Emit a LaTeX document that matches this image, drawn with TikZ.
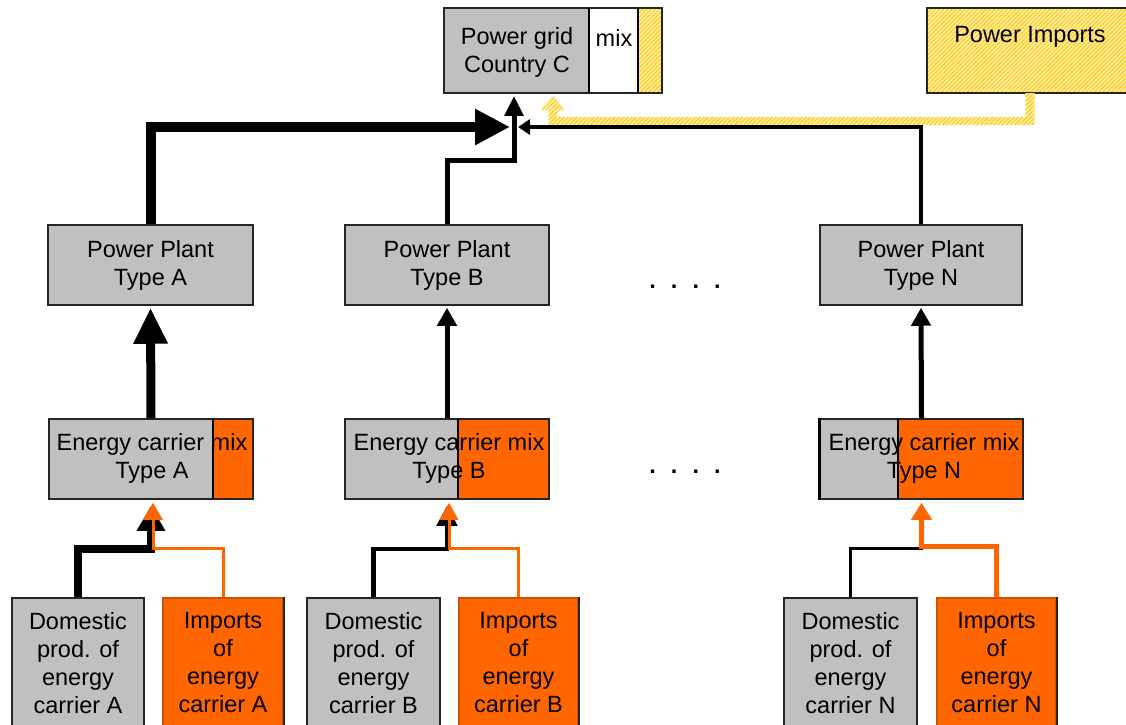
\documentclass[tikz,border=0pt]{standalone}
\usepackage{fontspec}
\setmainfont{Liberation Sans}
\usetikzlibrary{arrows.meta,calc,patterns.meta}
\definecolor{boxgrey}{HTML}{C0C0C0}
\definecolor{carrorange}{HTML}{FF6600}
\definecolor{hatchbg}{HTML}{FFF0A8}
\definecolor{hatchfg}{HTML}{FFCC22}
\begin{document}
\begin{tikzpicture}[x=1pt,y=-1pt,
  txt/.style={font=\fontsize{23.5}{28}\selectfont, align=center, inner sep=0pt},
  box/.style={draw=black!85, line width=1.5pt, inner sep=0pt, font=\fontsize{23.5}{28}\selectfont, align=center},
  greybox/.style={box, fill=boxgrey},
  orangebox/.style={box, draw=carrorange!80!black, fill=carrorange},
  hatch/.style={fill=hatchbg, postaction={pattern={Lines[angle=45,distance=3pt,line width=1.2pt]}, pattern color=hatchfg}},
  divider/.style={line width=2pt, black},
  flowA/.style={line width=10pt, -{Triangle[length=35pt,width=34pt]}},
  flowB/.style={line width=5pt, -{Triangle[length=20pt,width=18pt]}},
  flowN/.style={line width=4pt, -{Triangle[length=12pt,width=15pt]}},
  orflow/.style={carrorange, -{Triangle[length=17pt,width=19pt]}},
  dotrow/.style={font=\fontsize{23.5}{28}\selectfont\bfseries, inner sep=0pt, anchor=base},
]
\useasboundingbox (0,0) rectangle (1126,724);
\fill[white] (0,0) rectangle (1126,724);

% ---------- Power grid Country C ----------
\fill[boxgrey] (444,8) rectangle (589,93);
\fill[white] (589,8) rectangle (638,93);
\fill[hatch] (638,8) rectangle (662,93);
\node[box, minimum width=218pt, minimum height=85pt] (grid) at (553,50.5) {};
\draw[divider] (589,8) -- (589,93);
\draw[divider] (638,8) -- (638,93);
\node[txt] (gridlbl) at (517,52) {Power grid\\Country C};
\node[txt] (gridmix) at (614,38) {mix};

% ---------- Power Imports ----------
\node[inner sep=0pt, hatch, minimum width=206pt, minimum height=85pt] (imp) at (1030,50.5) {};
\draw[black!85, line width=1.5pt] (imp.north west) rectangle (imp.south east);
\node[txt] (implbl) at (1030,37) {Power Imports};

% ---------- Power plants ----------
\node[greybox, minimum width=205pt, minimum height=80pt] (ppA) at (150.5,265) {Power Plant\\Type A};
\node[greybox, minimum width=204pt, minimum height=80pt] (ppB) at (447,265) {Power Plant\\Type B};
\node[greybox, minimum width=202pt, minimum height=80pt] (ppN) at (921,265) {Power Plant\\Type N};

% ---------- Energy carrier mix boxes ----------
\fill[boxgrey] (49,419) rectangle (213,499);
\fill[carrorange] (213,419) rectangle (253,499);
\node[box, minimum width=204pt, minimum height=80pt] (ecA) at (151,459) {};
\node[txt] (ecAlbl) at (152,458) {Energy carrier mix\\Type A};
\draw[divider] (213,419) -- (213,499);

\fill[boxgrey] (345,419) rectangle (458,499);
\fill[carrorange] (458,419) rectangle (549,499);
\node[box, minimum width=204pt, minimum height=80pt] (ecB) at (447,459) {};
\node[txt] (ecBlbl) at (449,458) {Energy carrier mix\\Type B};
\draw[divider] (458,419) -- (458,499);

\fill[boxgrey] (820,419) rectangle (898,499);
\fill[carrorange] (898,419) rectangle (1023,499);
\node[box, minimum width=203pt, minimum height=80pt] (ecN) at (921.5,459) {};
\node[txt] (ecNlbl) at (924,458) {Energy carrier mix\\Type N};
\draw[divider] (898,419) -- (898,499);
\draw[line width=3pt] (ecN.north west) -- (ecN.south west);

% ---------- Bottom sources ----------
\node[greybox, minimum width=132pt, minimum height=130pt] (domA) at (78,663) {Domestic\\prod. of\\energy\\carrier A};
\node[orangebox, minimum width=120pt, minimum height=130pt] (impA) at (223,663) {Imports\\of\\energy\\carrier A};
\node[greybox, minimum width=133pt, minimum height=130pt] (domB) at (373.5,663) {Domestic\\prod. of\\energy\\carrier B};
\node[orangebox, minimum width=119pt, minimum height=130pt] (impB) at (518.5,663) {Imports\\of\\energy\\carrier B};
\node[greybox, minimum width=133pt, minimum height=130pt] (domN) at (850.5,663) {Domestic\\prod. of\\energy\\carrier N};
\node[orangebox, minimum width=119pt, minimum height=130pt] (impN) at (996.5,663) {Imports\\of\\energy\\carrier N};
\foreach \n in {impA,impB,impN}{
  \draw[line width=1.5pt, black!85] (\n.north east) -- (\n.south east);
}

% ---------- dots ----------
\node[dotrow] (dots1) at (685,288) {.\hspace{15pt}.\hspace{15pt}.\hspace{15pt}.};
\node[dotrow] (dots2) at (685,473) {.\hspace{15pt}.\hspace{15pt}.\hspace{15pt}.};

% ---------- hub and yellow power import flow ----------
\coordinate (hub) at (514,127);
\coordinate (ycorner) at (553,121);
\fill[hatch] ($(imp.south)+(-4.5,0)$) -- ($(imp.south)+(4.5,0)$) -- ($(imp.south |- ycorner)+(4.5,4)$)
  -- ($(ycorner)+(-4.5,4)$) -- ($(ycorner)+(-4.5,-11)$) -- ($(ycorner)+(-11.5,-11)$)
  -- ($(ycorner |- grid.south)+(0,1.5)$) -- ($(ycorner)+(11.5,-11)$) -- ($(ycorner)+(4.5,-11)$)
  -- ($(ycorner)+(4.5,-4)$) -- ($(imp.south |- ycorner)+(-4.5,-4)$) -- cycle;

% ---------- power plants to grid ----------
\draw[flowA] (ppA.north) |- ($(hub)+(-4,0)$);
\draw[flowB] (ppB.north) |- ($(hub)+(0,33)$) -- ($(hub |- grid.south)+(0,2)$);
\draw[flowN] (ppN.north) |- ($(hub)+(4,0)$);

% ---------- carrier mixes to power plants ----------
\draw[line width=9pt, -{Triangle[length=36pt,width=32pt]}] (ecA.north) -- ($(ppA.south)+(0,2)$);
\draw[line width=5pt, -{Triangle[length=18pt,width=19pt]}] (ecB.north) -- ($(ppB.south)+(0,2)$);
\draw[line width=5pt, -{Triangle[length=18pt,width=19pt]}] (ecN.north) -- ($(ppN.south)+(0,2)$);

% ---------- sources to carrier mixes ----------
\draw[line width=8pt, -{Triangle[length=25pt,width=27pt]}] (domA.north) |- ($(ecA.south)+(0,49)$) -- ($(ecA.south)+(0,6)$);
\draw[orflow, line width=3pt] (impA.north) |- ($(ecA.south)+(2,49)$) -- ($(ecA.south)+(2,3)$);

\draw[line width=4.5pt, -{Triangle[length=20pt,width=20pt]}] (domB.north) |- ($(ecB.south)+(0,49)$) -- ($(ecB.south)+(0,6)$);
\draw[orflow, line width=3pt, -{Triangle[length=17pt,width=18pt]}] (impB.north) |- ($(ecB.south)+(2,49)$) -- ($(ecB.south)+(2,3)$);

\draw[line width=3pt, -{Triangle[length=12pt,width=12pt]}] (domN.north) |- ($(ecN.south)+(0,49)$) -- ($(ecN.south)+(0,8)$);
\draw[orflow, line width=5pt, -{Triangle[length=17pt,width=20pt]}] (impN.north) |- ($(ecN.south)+(0,47)$) -- ($(ecN.south)+(0,3)$);
\end{tikzpicture}
\end{document}
